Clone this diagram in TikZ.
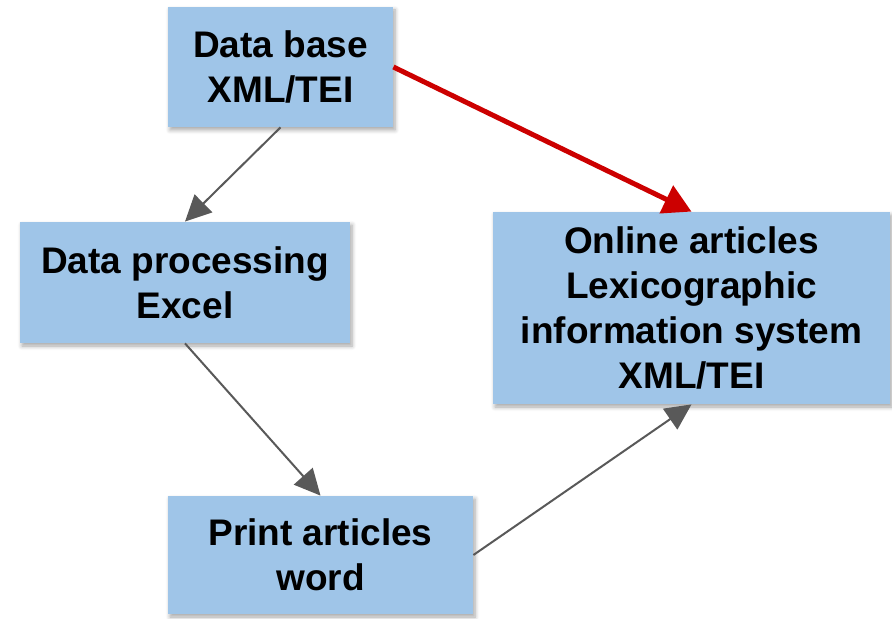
\documentclass[tikz,border=0pt]{standalone}
\usepackage{fontspec}
\setmainfont{Liberation Sans}
\usepackage{xcolor}
\usetikzlibrary{shapes,arrows.meta,positioning,shadows.blur}
\definecolor{boxblue}{HTML}{9FC5E8}
\definecolor{arrowgray}{HTML}{595959}
\definecolor{arrowred}{HTML}{CC0000}

\begin{document}
\begin{tikzpicture}[x=0.5pt, y=-0.5pt]
\tikzstyle{block} = [rectangle, fill=boxblue, align=center, inner sep=0pt, font=\fontsize{18.5}{22.5}\selectfont\bfseries, blur shadow={shadow xshift=1pt, shadow yshift=-1.5pt, shadow blur steps=6, shadow opacity=35}]
\tikzstyle{arrow} = [line width=1pt, arrowgray, -{Triangle[length=13pt, width=12.5pt]}]
\tikzstyle{redarrow} = [line width=2.5pt, arrowred, -{Triangle[length=14pt, width=15pt]}]

\useasboundingbox (0,0) rectangle (892,619);

\node [block, minimum width=112.5pt, minimum height=60pt] (db) at (280.5,67) {Data base\\XML/TEI};
\node [block, minimum width=165pt, minimum height=60.5pt] (proc) at (185,282.5) {Data processing\\Excel};
\node [block, minimum width=198.5pt, minimum height=96pt] (online) at (691.5,308) {Online articles\\Lexicographic\\information system\\XML/TEI};
\node [block, minimum width=152.5pt, minimum height=59pt] (print) at (320.5,555) {Print articles\\word};

\draw [arrow] (db.south) -- (proc.north);
\draw [arrow] (proc.south) -- (print.north);
\draw [arrow] (print.east) -- (online.south);
\draw [redarrow] (db.east) -- (online.north);
\end{tikzpicture}
\end{document}
